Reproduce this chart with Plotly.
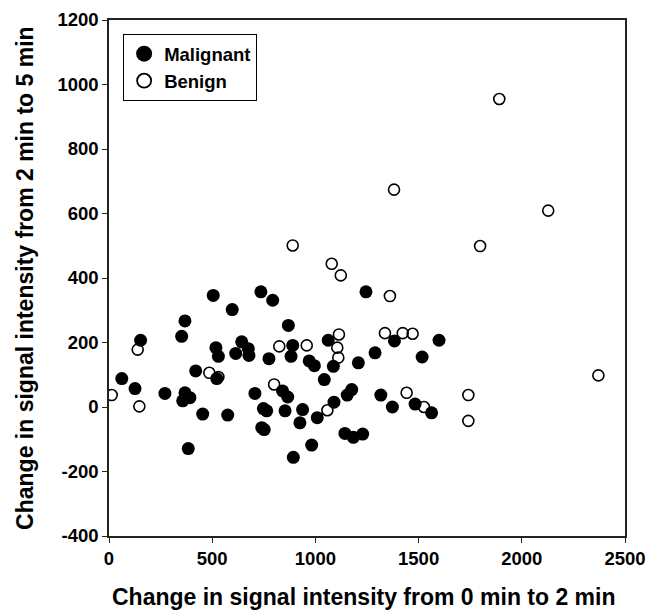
import plotly.graph_objects as go

mal_x = [62, 126, 153, 271, 352, 368, 368, 357, 392, 384, 420, 454, 505, 518, 530, 522, 575, 597, 614, 643,
         675, 678, 707, 736, 748, 764, 740, 752, 793, 775, 841, 869, 890, 882, 866, 853, 893, 925, 938, 970,
         995, 982, 1009, 1043, 1062, 1087, 1090, 1154, 1176, 1143, 1184, 1208, 1245, 1229, 1289, 1317, 1373,
         1383, 1483, 1517, 1563, 1599]
mal_y = [88, 57, 207, 42, 219, 267, 44, 19, 29, -129, 112, -22, 346, 184, 157, 88, -25, 302, 166, 202,
         181, 160, 42, 357, -5, -12, -64, -70, 331, 150, 50, 253, 191, 157, 31, -12, -156, -49, -8, 143,
         128, -118, -33, 85, 207, 126, 15, 37, 54, -82, -94, 137, 357, -84, 168, 37, 0,
         205, 9, 155, -18, 207]

ben_x = [13, 139, 147, 486, 530, 800, 825, 958, 1058, 1114, 1106, 1111, 890, 1079, 1123, 1361, 1337, 1423,
         1471, 1442, 1526, 1741, 1741, 2371, 1891, 1381, 2128, 1798]
ben_y = [37, 178, 2, 106, 93, 70, 188, 191, -10, 225, 184, 153, 501, 444, 408, 344, 229, 229,
         227, 44, 0, 37, -43, 98, 955, 674, 609, 499]

x_ticks = [0, 500, 1000, 1500, 2000, 2500]
y_ticks = [-400, -200, 0, 200, 400, 600, 800, 1000, 1200]

x_title = "Change in signal intensity from 0 min to 2 min"
y_title = "Change in signal intensity from 2 min to 5 min"

FONT = "Liberation Sans, Arial, sans-serif"

fig = go.Figure()
fig.add_trace(go.Scatter(
    x=mal_x, y=mal_y, mode="markers", name="Malignant", showlegend=False, legendgroup="m",
    marker=dict(symbol="circle", size=13, color="black", line=dict(color="black", width=0)),
))
fig.add_trace(go.Scatter(
    x=ben_x, y=ben_y, mode="markers", name="Benign", showlegend=False, legendgroup="b",
    marker=dict(symbol="circle-open", size=11, color="black", line=dict(color="black", width=1.6)),
))
# legend entries (larger symbols, as in the reference legend)
fig.add_trace(go.Scatter(
    x=[None], y=[None], mode="markers", name="Malignant", legendgroup="m",
    marker=dict(symbol="circle", size=16, color="black", line=dict(width=0)),
))
fig.add_trace(go.Scatter(
    x=[None], y=[None], mode="markers", name="Benign", legendgroup="b",
    marker=dict(symbol="circle-open", size=14, color="black", line=dict(color="black", width=1.8)),
))

axis_common = dict(
    showline=True, linecolor="#222", linewidth=1.5, mirror=True,
    ticks="outside", ticklen=5, tickcolor="#222", tickwidth=1.2,
    showgrid=False, zeroline=False, automargin=False,
    tickfont=dict(family=FONT, size=18.5, color="black", weight="bold"),
)

fig.update_layout(
    width=650, height=602,
    margin=dict(l=101, r=33, t=12, b=74),
    plot_bgcolor="white", paper_bgcolor="white",
    showlegend=True,
    legend=dict(
        x=0.027, y=0.973, xanchor="left", yanchor="top",
        bordercolor="black", borderwidth=1.2, bgcolor="white",
        font=dict(family=FONT, size=18.5, color="black", weight="bold"),
        tracegroupgap=0, itemsizing="trace",
    ),
    xaxis=dict(range=[0, 2500], tickvals=x_ticks, ticktext=[str(v) for v in x_ticks], **axis_common),
    yaxis=dict(range=[-400, 1200], tickvals=y_ticks, ticktext=[str(v) for v in y_ticks], **axis_common),
    annotations=[
        dict(text=x_title, xref="paper", yref="paper", x=0.494, y=-0.118,
             xanchor="center", yanchor="middle", showarrow=False,
             font=dict(family=FONT, size=23, color="black", weight="bold")),
        dict(text=y_title, xref="paper", yref="paper", x=-0.163, y=0.5, textangle=-90,
             xanchor="center", yanchor="middle", showarrow=False,
             font=dict(family=FONT, size=23, color="black", weight="bold")),
    ],
)

fig.write_html("out.html")
